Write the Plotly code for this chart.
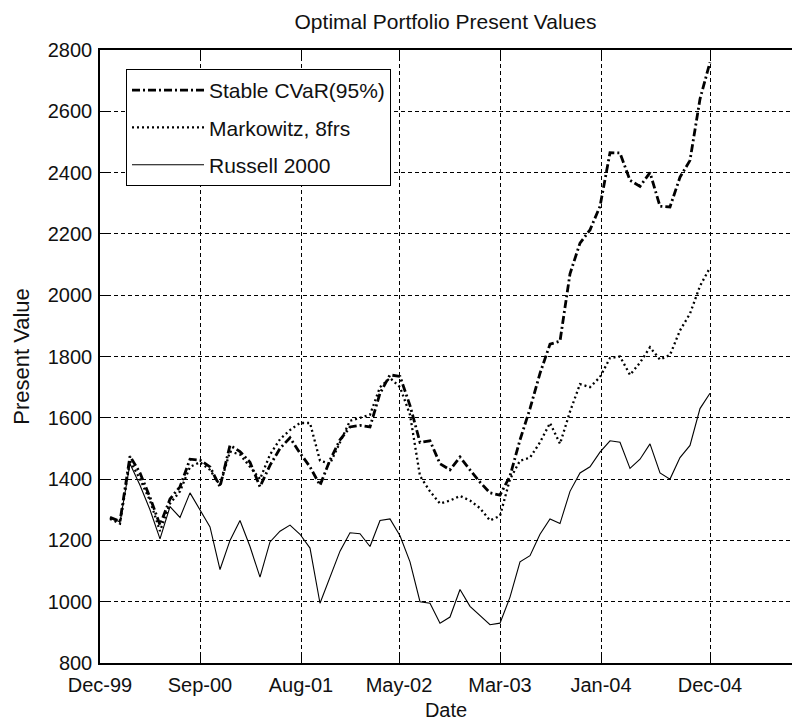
import plotly.graph_objects as go

# ---------------- data (monthly steps) ----------------
month_index = list(range(61))

stable_cvar = [1275, 1262, 1475, 1420, 1340, 1250, 1335, 1375, 1465, 1462,
               1440, 1375, 1510, 1490, 1455, 1375, 1445, 1500, 1535, 1485,
               1440, 1380, 1462, 1528, 1570, 1575, 1570, 1680, 1740, 1735,
               1640, 1520, 1525, 1450, 1430, 1472, 1430, 1390, 1355, 1348,
               1410, 1528, 1630, 1745, 1840, 1850, 2070, 2170, 2213, 2290,
               2465, 2464, 2375, 2355, 2400, 2290, 2288, 2385, 2440, 2640,
               2760]

markowitz = [1270, 1255, 1460, 1400, 1330, 1230, 1320, 1360, 1440, 1455,
             1430, 1380, 1490, 1480, 1440, 1400, 1480, 1530, 1560, 1583,
             1583, 1460, 1450, 1520, 1590, 1600, 1610, 1700, 1730, 1700,
             1610, 1410, 1360, 1320, 1330, 1345, 1330, 1305, 1265, 1280,
             1400, 1460, 1470, 1520, 1583, 1515, 1620, 1710, 1700, 1733,
             1795, 1800, 1740, 1780, 1830, 1790, 1805, 1885, 1940, 2030,
             2090]

russell = [1275, 1260, 1450, 1380, 1300, 1205, 1310, 1275, 1355, 1300,
           1244, 1105, 1200, 1265, 1180, 1080, 1195, 1230, 1250, 1220,
           1175, 995, 1080, 1165, 1225, 1222, 1180, 1265, 1270, 1215,
           1130, 1000, 995, 930, 950, 1040, 985, 955, 925, 930,
           1015, 1130, 1150, 1220, 1270, 1255, 1360, 1420, 1440, 1488,
           1525, 1520, 1435, 1465, 1515, 1420, 1400, 1470, 1510, 1630,
           1680]

tick_positions = [-1, 9, 19.1, 28.9, 39, 49.1, 60]
tick_labels = ["Dec-99", "Sep-00", "Aug-01", "May-02", "Mar-03", "Jan-04", "Dec-04"]
y_ticks = [800, 1000, 1200, 1400, 1600, 1800, 2000, 2200, 2400, 2600, 2800]

FONT = "Liberation Sans, Arial, sans-serif"

fig = go.Figure()
fig.add_trace(go.Scatter(x=month_index, y=stable_cvar, mode="lines",
                         name="Stable CVaR(95%)", legendgroup="a",
                         line=dict(color="black", width=2.8, dash="8px,3px,2px,3px")))
fig.add_trace(go.Scatter(x=month_index, y=markowitz, mode="lines",
                         name="Markowitz, 8frs", legendgroup="b",
                         line=dict(color="black", width=2.3, dash="2px,3px")))
fig.add_trace(go.Scatter(x=month_index, y=russell, mode="lines",
                         name="Russell 2000", legendgroup="c",
                         line=dict(color="black", width=1.1)))

fig.update_layout(
    width=792, height=723,
    margin=dict(l=100, r=0, t=50, b=60),
    paper_bgcolor="white", plot_bgcolor="white",
    font=dict(family=FONT, size=20, color="#111"),
    title=dict(text="Optimal Portfolio Present Values", x=0.5625, xanchor="center",
               y=1 - 22 / 723, yanchor="middle", font=dict(size=21)),
    showlegend=True,
    legend=dict(x=26 / 692, y=(663 - 69) / 613, xanchor="left", yanchor="top",
                bgcolor="white", bordercolor="black", borderwidth=1,
                font=dict(size=21), tracegroupgap=7, itemwidth=72),
    xaxis=dict(range=[-1, 68.2], tickmode="array", tickvals=tick_positions,
               ticktext=tick_labels, ticks="inside", ticklen=7, tickcolor="black",
               showline=True, linecolor="black", linewidth=1.5, mirror="ticks",
               showgrid=True, gridcolor="black", gridwidth=1, griddash="4px,3px",
               zeroline=False, tickfont=dict(size=20),
               title=dict(text="Date", standoff=8, font=dict(size=20)),
               ticklabelstandoff=3),
    yaxis=dict(range=[800, 2800], tickmode="array", tickvals=y_ticks,
               ticks="inside", ticklen=7, tickcolor="black",
               showline=True, linecolor="black", linewidth=1.5, mirror=False,
               showgrid=True, gridcolor="black", gridwidth=1, griddash="4px,3px",
               zeroline=False, tickfont=dict(size=20),
               title=dict(text="Present Value", standoff=12, font=dict(size=22)),
               ticklabelstandoff=2),
)

fig.write_html("out.html")
